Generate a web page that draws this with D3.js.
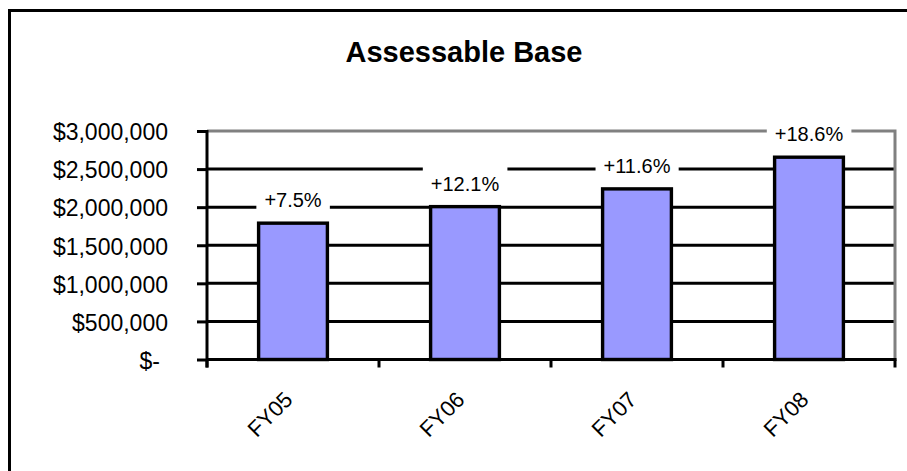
<!DOCTYPE html>
<html>
<head>
<meta charset="utf-8">
<script src="https://cdn.jsdelivr.net/npm/d3@7"></script>
<style>
  html, body { margin: 0; padding: 0; background: #fff; }
  svg { display: block; font-family: "Liberation Sans", Arial, sans-serif; }
</style>
</head>
<body>
<svg id="chart" width="907" height="471"></svg>
<script>
// Assessable base by fiscal year, with year-over-year growth labels
const categories = ["FY05", "FY06", "FY07", "FY08"];
const values = [1790000, 2007000, 2240000, 2656000];
const growthLabels = ["+7.5%", "+12.1%", "+11.6%", "+18.6%"];
const yTicks = [0, 500000, 1000000, 1500000, 2000000, 2500000, 3000000];
const titleText = "Assessable Base";

const svg = d3.select("#chart");
const W = 907, H = 471;
const plot = { left: 207, right: 895, top: 131, bottom: 359.5 };

svg.append("rect").attr("width", W).attr("height", H).attr("fill", "#fff");

// outer chart frame (runs off the right and bottom edges)
svg.append("path")
  .attr("d", `M9.5,${H + 5}V10.5H${W + 5}`)
  .attr("fill", "none").attr("stroke", "#000").attr("stroke-width", 3);

svg.append("text")
  .attr("x", 464).attr("y", 62)
  .attr("text-anchor", "middle")
  .attr("font-size", 29).attr("font-weight", "bold")
  .text(titleText);

const x = d3.scaleBand()
  .domain(categories)
  .range([plot.left, plot.right])
  .paddingInner(0.6)
  .paddingOuter(0.3);

const y = d3.scaleLinear()
  .domain([0, 3000000])
  .range([plot.bottom, plot.top]);

// horizontal gridlines
svg.append("g").selectAll("line")
  .data(yTicks.filter(t => t > 0 && t < 3000000))
  .join("line")
  .attr("x1", plot.left).attr("x2", plot.right)
  .attr("y1", d => y(d)).attr("y2", d => y(d))
  .attr("stroke", "#000").attr("stroke-width", 3);

// plot area border (top and right)
svg.append("path")
  .attr("d", `M${plot.left},${y(3000000)}H${plot.right}V${plot.bottom}`)
  .attr("fill", "none").attr("stroke", "#808080").attr("stroke-width", 3);

// bars
svg.append("g").selectAll("rect")
  .data(categories)
  .join("rect")
  .attr("x", d => x(d))
  .attr("width", x.bandwidth())
  .attr("y", (d, i) => y(values[i]))
  .attr("height", (d, i) => y(0) - y(values[i]))
  .attr("fill", "#9999ff")
  .attr("stroke", "#000").attr("stroke-width", 3.4);

// y axis
const fmt = v => v === 0 ? "$-" : "$" + d3.format(",")(v);
const yAxis = svg.append("g")
  .attr("transform", `translate(${plot.left},0)`)
  .call(d3.axisLeft(y).tickValues(yTicks).tickSize(10).tickPadding(29).tickFormat(fmt));
yAxis.select(".domain").remove();
yAxis.selectAll(".tick line").attr("stroke", "#000").attr("stroke-width", 3);
yAxis.selectAll(".tick text")
  .attr("font-size", 23).attr("fill", "#000")
  .attr("font-family", "Liberation Sans, Arial, sans-serif")
  .attr("dy", "0.38em")
  .attr("dx", d => d === 0 ? -8 : 0);
svg.append("line")
  .attr("x1", plot.left).attr("x2", plot.left)
  .attr("y1", plot.top - 1).attr("y2", plot.bottom + 8)
  .attr("stroke", "#000").attr("stroke-width", 3);

// x axis line and category boundary ticks
svg.append("line")
  .attr("x1", plot.left).attr("x2", plot.right + 1.5)
  .attr("y1", plot.bottom).attr("y2", plot.bottom)
  .attr("stroke", "#000").attr("stroke-width", 3);
const gap = x.step() - x.bandwidth();
const bounds = categories.map(c => x(c) - gap / 2).concat([x(categories[categories.length - 1]) + x.bandwidth() + gap / 2]);
svg.append("g").selectAll("line")
  .data(bounds)
  .join("line")
  .attr("x1", d => d).attr("x2", d => d)
  .attr("y1", plot.bottom).attr("y2", plot.bottom + 8)
  .attr("stroke", "#000").attr("stroke-width", 3);

// rotated category labels
svg.append("g").selectAll("text")
  .data(categories)
  .join("text")
  .attr("transform", d => `translate(${x(d) + x.bandwidth() / 2 + 1},401) rotate(-45)`)
  .attr("text-anchor", "end")
  .attr("font-size", 22)
  .text(d => d);

// growth labels with white backing boxes
const lab = svg.append("g").selectAll("g")
  .data(categories)
  .join("g")
  .attr("transform", (d, i) => `translate(${x(d) + x.bandwidth() / 2},${y(values[i]) - 16})`);
lab.append("text")
  .attr("text-anchor", "middle")
  .attr("font-size", 20)
  .text((d, i) => growthLabels[i]);
lab.each(function () {
  const g = d3.select(this);
  const bb = g.select("text").node().getBBox();
  g.insert("rect", "text")
    .attr("x", bb.x - 8).attr("width", bb.width + 16)
    .attr("y", -26).attr("height", 31)
    .attr("fill", "#fff");
});
</script>
</body>
</html>
